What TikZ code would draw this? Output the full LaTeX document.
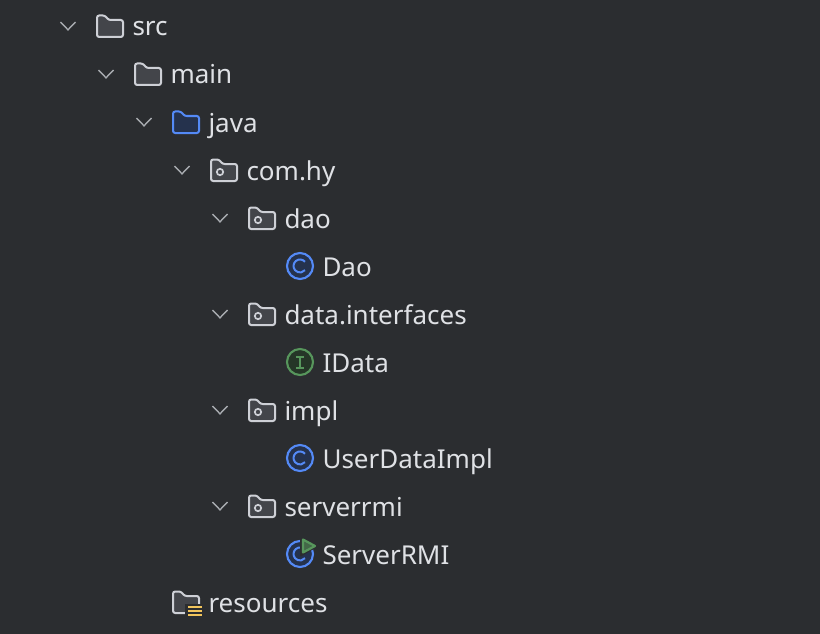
\documentclass[tikz,border=0pt]{standalone}
\usepackage{fontspec}
\setmainfont{Noto Sans}
\usepackage{tikz}
\usetikzlibrary{positioning, calc}

\definecolor{panelbg}{HTML}{2B2D30}
\definecolor{labelfg}{HTML}{DFE1E5}
\definecolor{arrowfg}{HTML}{A8ABB0}
\definecolor{folderfg}{HTML}{CED0D6}
\definecolor{folderbg}{HTML}{43454A}
\definecolor{bluefg}{HTML}{548AF7}
\definecolor{bluebg}{HTML}{25324D}
\definecolor{greenfg}{HTML}{57965C}
\definecolor{greenbg}{HTML}{253627}
\definecolor{yellowfg}{HTML}{F2C55C}

\tikzset{
    x=1pt, y=-1pt,
    label/.style={inner sep=0pt, anchor=base west, text=labelfg, font=\fontsize{26}{30}\selectfont},
    % tree arrow
    chevron/.pic={
        \draw[arrowfg, line width=1.4pt] (-7.5,-4) -- (0,3.8) -- (7.5,-4);
    },
    % folder
    folder/.pic={
        \draw[pic actions, line width=2pt, rounded corners=2.2pt]
            (-13,0) -- (-13,-10.5) -- (-5,-10.5) -- (-1.5,-6) -- (13,-6)
            -- (13,11) -- (-13,11) -- cycle;
    },
    grayfolder/.style={draw=folderfg, fill=folderbg},
    bluefolder/.style={draw=bluefg, fill=bluebg},
    % package folder with a small ring
    package/.pic={
        \pic[grayfolder] {folder};
        \draw[folderfg, line width=1.7pt] (-4,2) circle[radius=3.2];
    },
    % round class icon
    badge/.pic={
        \draw[pic actions, line width=2.1pt] (0,0) circle[radius=13];
    },
    classletter/.pic={
        \draw[bluefg, line width=2pt] (5,-4.2) arc[start angle=-40, end angle=-320, radius=6.5];
    },
}

\begin{document}
\begin{tikzpicture}
    \useasboundingbox[fill=panelbg] (0,0) rectangle (820,634);

    % tree arrows
    \pic at (68,26) {chevron};
    \pic at (106,74) {chevron};
    \pic at (144,122) {chevron};
    \pic at (182,170) {chevron};
    \foreach \rowy in {218,314,410,506}
        \pic at (220,\rowy) {chevron};

    % folders
    \pic[grayfolder] at (110,26) {folder};
    \pic[grayfolder] at (148,74) {folder};
    \pic[bluefolder] at (186,122) {folder};
    \pic at (224,170) {package};
    \foreach \rowy in {218,314,410,506}
        \pic at (262,\rowy) {package};
    \pic[grayfolder] at (186,602) {folder};
    \fill[panelbg] (185,604) rectangle (203,618);
    \foreach \bary in {607,611,615}
        \draw[yellowfg, line width=2.2pt] (188,\bary) -- (202,\bary);

    % classes
    \foreach \rowy in {266,458,554} {
        \pic[draw=bluefg, fill=bluebg] at (300,\rowy) {badge};
        \pic at (300,\rowy) {classletter};
    }
    \pic[draw=greenfg, fill=greenbg] at (300,362) {badge};
    \draw[greenfg, line width=2pt] (296,356.5) -- (304,356.5) (300,356.5) -- (300,367.5) (296,367.5) -- (304,367.5);
    \fill[panelbg, rounded corners=1pt] (300,535) -- (319,546) -- (300,557) -- cycle;
    \draw[greenfg, fill=greenfg!55!panelbg, line width=2.2pt, line join=round] (303,539.5) -- (315,546) -- (303,552.5) -- cycle;

    % labels
    \node[label] (src) at (132.3,36) {src};
    \node[label] (main) at (170.3,84) {main};
    \node[label] (java) at (208.3,132) {java};
    \node[label] (comhy) at (246.3,180) {com.hy};
    \node[label] (dao) at (284.3,228) {dao};
    \node[label] (Dao) at (322.3,276) {Dao};
    \node[label] (interfaces) at (284.3,324) {data.interfaces};
    \node[label] (IData) at (322.3,372) {IData};
    \node[label] (impl) at (284.3,420) {impl};
    \node[label] (UserDataImpl) at (322.3,468) {UserDataImpl};
    \node[label] (serverrmi) at (284.3,516) {serverrmi};
    \node[label] (ServerRMI) at (322.3,564) {ServerRMI};
    \node[label] (resources) at (208.3,612) {resources};
\end{tikzpicture}
\end{document}
